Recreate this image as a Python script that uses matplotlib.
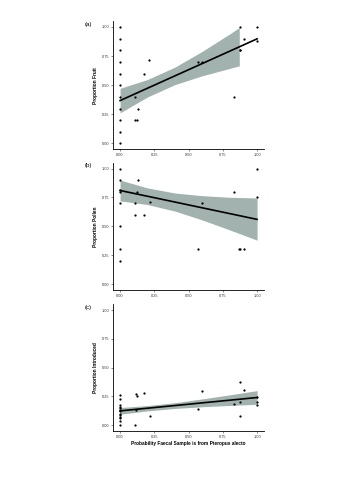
import matplotlib
matplotlib.use("Agg")
import matplotlib.pyplot as plt

plt.rcParams["font.family"] = ["Liberation Sans", "DejaVu Sans"]

# faecal sample probability (x) vs diet proportion (y), one panel per diet item
fruit_x = [0, 0, 0, 0, 0, 0, 0, 0, 0, 0, 0,
           0.11, 0.11, 0.12, 0.128, 0.172, 0.211, 0.57, 0.595,
           0.833, 0.872, 0.877, 0.877, 0.907, 1.0, 1.0]
fruit_y = [1.0, 0.9, 0.8, 0.7, 0.6, 0.5, 0.4, 0.3, 0.2, 0.1, 0.0,
           0.40, 0.20, 0.20, 0.30, 0.60, 0.717, 0.70, 0.70,
           0.403, 0.80, 1.0, 0.80, 0.90, 1.0, 0.88]

pollen_x = [0, 0, 0, 0, 0, 0, 0, 0,
            0.111, 0.111, 0.121, 0.131, 0.175, 0.215, 0.568, 0.595,
            0.832, 0.867, 0.877, 0.906, 1.0, 1.0]
pollen_y = [1.0, 0.9, 0.8, 0.81, 0.7, 0.5, 0.3, 0.2,
            0.70, 0.60, 0.80, 0.90, 0.60, 0.71, 0.30, 0.70,
            0.80, 0.30, 0.30, 0.30, 1.0, 0.75]

intro_x = [0, 0, 0, 0, 0, 0, 0, 0, 0, 0, 0, 0, 0,
           0.111, 0.115, 0.116, 0.126, 0.175, 0.215, 0.57, 0.595,
           0.832, 0.872, 0.877, 0.874, 0.906, 1.0, 1.0, 1.0]
intro_y = [0.26, 0.23, 0.18, 0.16, 0.15, 0.13, 0.12, 0.10, 0.09, 0.07, 0.06, 0.04, 0.0,
           0.0, 0.13, 0.273, 0.25, 0.282, 0.078, 0.137, 0.30,
           0.189, 0.378, 0.206, 0.078, 0.308, 0.244, 0.206, 0.18]

# fitted lines (value at x=0 and x=1) and confidence bands
fruit_fit = [0.368, 0.898]
fruit_band_x = [0, 0.2, 0.4, 0.6, 0.8, 0.87]
fruit_lo = [0.263, 0.399, 0.505, 0.581, 0.644, 0.666]
fruit_hi = [0.473, 0.549, 0.655, 0.791, 0.940, 0.995]

pollen_fit = [0.81, 0.56]
pollen_band_x = [0, 0.2, 0.4, 0.6, 0.8, 1.0]
pollen_lo = [0.72, 0.688, 0.632, 0.555, 0.469, 0.38]
pollen_hi = [0.90, 0.832, 0.788, 0.765, 0.751, 0.745]

intro_fit = [0.125, 0.241]
intro_band_x = [0, 0.2, 0.4, 0.6, 0.8, 1.0]
intro_lo = [0.096, 0.125, 0.146, 0.161, 0.172, 0.182]
intro_hi = [0.154, 0.171, 0.196, 0.229, 0.264, 0.301]

ticks = [0, 0.25, 0.5, 0.75, 1.0]
tick_labels = ["0.00", "0.25", "0.50", "0.75", "1.00"]

panels = [
    ("(a)", "Proportion Fruit", fruit_x, fruit_y, fruit_fit,
     fruit_band_x, fruit_lo, fruit_hi, [0.689, 0.267]),
    ("(b)", "Proportion Pollen", pollen_x, pollen_y, pollen_fit,
     pollen_band_x, pollen_lo, pollen_hi, [0.396, 0.265]),
    ("(c)", "Proportion Introduced", intro_x, intro_y, intro_fit,
     intro_band_x, intro_lo, intro_hi, [0.102, 0.264]),
]

fig = plt.figure(figsize=(3.39, 4.8), dpi=100)

for tag, ylab, x, y, fit, bx, lo, hi, pos in panels:
    ax = fig.add_axes([0.334, pos[0], 0.4446, pos[1]])
    ax.fill_between(bx, lo, hi, color="#a2b2ae", linewidth=0, zorder=1)
    ax.plot([0, 1], fit, color="black", linewidth=1.2, zorder=2)
    ax.scatter(x, y, s=2.6, color="black", linewidths=0, zorder=3)
    ax.set_xlim(-0.05, 1.05)
    ax.set_ylim(-0.05, 1.05)
    ax.set_xticks(ticks)
    ax.set_xticklabels(tick_labels)
    ax.set_yticks(ticks)
    ax.set_yticklabels(tick_labels)
    ax.tick_params(labelsize=2.8, length=1.6, width=0.4, pad=1.0, colors="#333333")
    for side in ["top", "right"]:
        ax.spines[side].set_visible(False)
    for side in ["left", "bottom"]:
        ax.spines[side].set_linewidth(0.6)
    ax.set_ylabel(ylab, fontsize=3.4, fontweight="bold")
    ax.yaxis.set_label_coords(-0.1, 0.5)
    ax.text(-0.163, 0.975, tag, transform=ax.transAxes, fontsize=4.4,
            ha="center", va="center")
    if tag == "(c)":
        ax.set_xlabel("Probability Faecal Sample is from Pteropus alecto",
                      fontsize=3.4, fontweight="bold")
        ax.xaxis.set_label_coords(0.5, -0.075)

fig.savefig("out.png", dpi=100)
